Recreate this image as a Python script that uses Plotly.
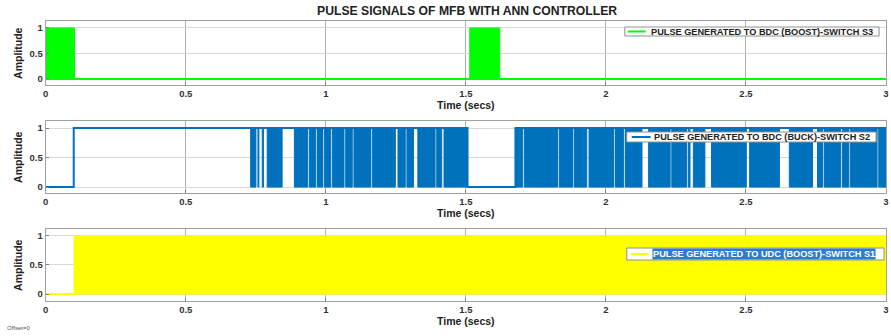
import plotly.graph_objects as go

W, H = 891, 336
T_END = 3.0
FONT = "Liberation Sans, Arial, sans-serif"

# ---------------- signal data (time in s) ----------------
# S3: BDC boost switch -- dense PWM windows, otherwise held at 0
s3_bands = [(0.0, 0.103), (1.514, 1.621)]
s3_levels = [(0.0, 0)]

# S2: BDC buck switch -- held level changes and dense PWM windows
s2_levels = [(0.0, 0), (0.1, 1), (1.506, 0), (1.677, 1)]
s2_bands = [
    (0.7317, 0.7506), (0.7577, 0.7612), (0.7730, 0.7777), (0.7908, 0.8440),
    (0.8877, 0.9350), (0.9409, 0.9645), (0.9704, 0.9882), (0.9941, 1.0177),
    (1.0236, 1.0650), (1.0709, 1.0945), (1.1004, 1.1596), (1.1655, 1.2482),
    (1.2577, 1.2837), (1.2896, 1.3132), (1.3286, 1.3901), (1.3960, 1.4137),
    (1.4220, 1.5059), (1.6773, 1.7030), (1.7090, 1.8270), (1.8330, 1.8806),
    (1.8865, 1.9315), (1.9397, 2.0284), (2.0343, 2.0638), (2.0697, 2.1288),
    (2.1525, 2.2293), (2.2352, 2.2884), (2.2943, 2.3002), (2.3121, 2.3534),
    (2.3771, 2.5012), (2.5130, 2.6194), (2.6548, 2.7376), (2.7553, 2.7730),
    (2.7790, 2.8380), (2.8440, 2.8676), (2.8735, 2.9681), (2.9740, 3.0),
]

# S1: UDC boost switch
s1_levels = [(0.0, 0), (0.103, 1)]
s1_bands = [(0.103, 3.0)]

x_ticks = [0, 0.5, 1, 1.5, 2, 2.5, 3]
x_tick_text = ["0", "0.5", "1", "1.5", "2", "2.5", "3"]
y_ticks = [0, 0.5, 1]
y_tick_text = ["0", "0.5", "1"]

title_text = "PULSE SIGNALS OF MFB WITH ANN CONTROLLER"
legend_text = [
    "PULSE GENERATED TO BDC (BOOST)-SWITCH S3",
    "PULSE GENERATED TO BDC (BUCK)-SWITCH S2",
    "PULSE GENERATED TO UDC (BOOST)-SWITCH S1",
]
colors = ["#00FF00", "#0072BD", "#FFFF00"]


# ---------------- helpers ----------------
def px_x(x):
    return x / W


def px_y(y):
    return 1 - y / H


def band_path(bands):
    xs, ys = [], []
    for a, b in bands:
        xs += [a, a, b, b, a, None]
        ys += [0, 1, 1, 0, 0, None]
    return xs, ys


def level_path(levels):
    xs = [t for t, _ in levels] + [T_END]
    ys = [v for _, v in levels] + [levels[-1][1]]
    return xs, ys


# panel geometry in pixels: (top, bottom, y-range)
panels = [
    (21, 85, [-0.118, 1.137]),
    (121, 193, [-0.10, 1.119]),
    (229, 301, [-0.12, 1.119]),
]
X0, X1 = 43, 889

fig = go.Figure()
series = [(s3_bands, s3_levels), (s2_bands, s2_levels), (s1_bands, s1_levels)]
for i, ((bands, levels), col) in enumerate(zip(series, colors)):
    ax = "" if i == 0 else str(i + 1)
    lx, ly = level_path(levels)
    fig.add_trace(go.Scatter(x=lx, y=ly, mode="lines", line=dict(color=col, width=2, shape="hv"),
                             xaxis="x" + ax, yaxis="y" + ax, showlegend=False, hoverinfo="skip"))
    bx, by = band_path(bands)
    fig.add_trace(go.Scatter(x=bx, y=by, mode="lines", fill="toself", fillcolor=col,
                             line=dict(color=col, width=1), xaxis="x" + ax, yaxis="y" + ax,
                             showlegend=False, hoverinfo="skip"))

layout = dict(
    width=W, height=H, margin=dict(l=0, r=0, t=0, b=0),
    paper_bgcolor="white", plot_bgcolor="white", showlegend=False,
    font=dict(family=FONT, color="#222"),
)
for i, (top, bot, yr) in enumerate(panels):
    sfx = "" if i == 0 else str(i + 1)
    layout["xaxis" + sfx] = dict(
        domain=[px_x(X0), px_x(X1)], anchor="y" + sfx, range=[0, T_END],
        tickvals=x_ticks, ticktext=x_tick_text, showgrid=True, gridcolor="#B0B0B0", gridwidth=1,
        zeroline=False, showline=True, linecolor="#A0A0A0", linewidth=1, mirror=True,
        ticks="inside", ticklen=3, tickcolor="#808080", ticklabeloverflow="allow",
        tickfont=dict(size=9.5, family=FONT, color="#333", weight="bold"),
    )
    layout["yaxis" + sfx] = dict(
        domain=[px_y(bot), px_y(top)], anchor="x" + sfx, range=yr,
        tickvals=y_ticks, ticktext=y_tick_text, showgrid=True, gridcolor="#D8D8D8", gridwidth=1,
        zeroline=False, showline=True, linecolor="#A0A0A0", linewidth=1, mirror=True,
        ticks="inside", ticklen=3, tickcolor="#808080",
        tickfont=dict(size=9.5, family=FONT, color="#333", weight="bold"),
    )
fig.update_layout(**layout)

P = dict(xref="paper", yref="paper", showarrow=False)
annotations = [
    dict(x=px_x(467), y=px_y(11), text="<b>" + title_text + "</b>",
         xanchor="center", yanchor="middle", font=dict(size=12.2, family=FONT, color="#222"), **P),
    dict(x=px_x(2), y=px_y(328), text="Offset=0", xanchor="left",
         yanchor="middle", font=dict(size=6, family=FONT, color="#555"), **P),
]
for top, bot, _ in panels:
    annotations.append(dict(x=px_x(466), y=px_y(bot + 20), text="<b>Time (secs)</b>",
                            xanchor="center", yanchor="middle",
                            font=dict(size=10.5, family=FONT, color="#222"), **P))
    annotations.append(dict(x=px_x(15), y=px_y((top + bot) / 2), text="<b>Amplitude</b>",
                            textangle=-90, xanchor="center", yanchor="middle",
                            font=dict(size=10.5, family=FONT, color="#222"), **P))

# legend boxes: (box left, top, right, bottom, line x0, line x1, text x)
legend_boxes = [
    (626, 27, 882, 36, 629, 647, 650),
    (628, 132, 879, 142, 633, 652, 653),
    (628, 248, 887, 260, 632, 650, 653),
]
shapes = []
for k, (l, t, r, b, lx0, lx1, tx) in enumerate(legend_boxes):
    shapes.append(dict(type="rect", xref="paper", yref="paper", x0=px_x(l), x1=px_x(r),
                       y0=px_y(b), y1=px_y(t), fillcolor="white", line=dict(color="#909090", width=1)))
    yc = (t + b) / 2
    shapes.append(dict(type="line", xref="paper", yref="paper", x0=px_x(lx0), x1=px_x(lx1),
                       y0=px_y(yc), y1=px_y(yc), line=dict(color=colors[k], width=2)))
    if k == 2:
        annotations.append(dict(x=px_x(tx), y=px_y(yc), text="<b>" + legend_text[k] + "</b>",
                                xanchor="left", yanchor="middle", bgcolor="#2A7BD6",
                                borderpad=0, font=dict(size=9.2, family=FONT, color="white"), **P))
    else:
        annotations.append(dict(x=px_x(tx), y=px_y(yc), text="<b>" + legend_text[k] + "</b>",
                                xanchor="left", yanchor="middle",
                                font=dict(size=9.2, family=FONT, color="#222"), **P))

fig.update_layout(annotations=annotations, shapes=shapes)
fig.write_html("out.html")
